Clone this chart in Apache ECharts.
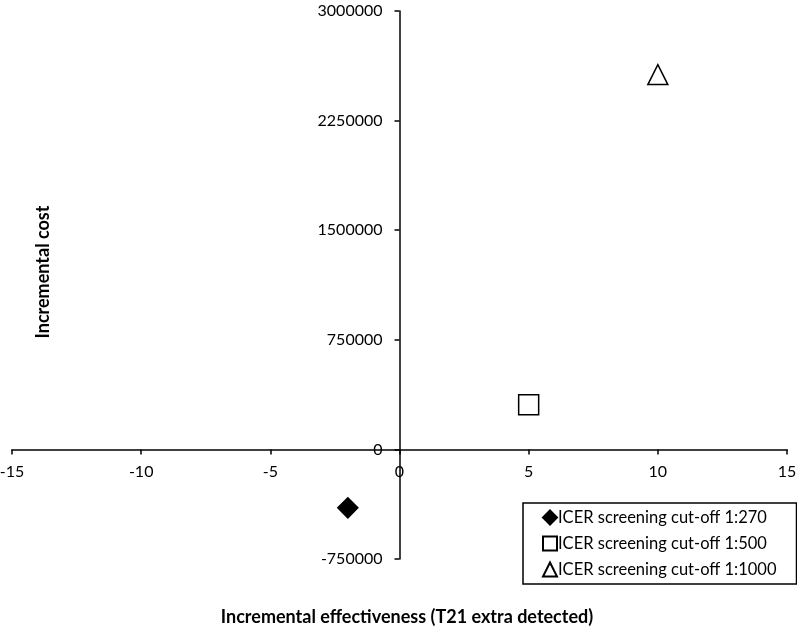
<!DOCTYPE html>
<html><head><meta charset="utf-8">
<script src="https://cdn.jsdelivr.net/npm/echarts@6/dist/echarts.min.js"></script>
<style>html,body{margin:0;padding:0;background:#fff}#c{width:797px;height:633px}</style>
</head><body><div id="c"></div>
<script>
const seriesNames = ['ICER screening cut-off 1:270','ICER screening cut-off 1:500','ICER screening cut-off 1:1000'];
const effectiveness = [-2, 5, 10];
const costs = [-400000, 305000, 2565000];
const symbols = ['diamond','rect','triangle'];
const fills = ['#000000','#ffffff','#ffffff'];
const xTitle = 'Incremental effectiveness (T21 extra detected)';
const yTitle = 'Incremental cost';

const font = 'Lato, "Open Sans", sans-serif';
const chart = echarts.init(document.getElementById('c'), null, {renderer:'canvas'});
const gridLeft = 12, gridRight = 10, gridTop = 11, gridBottom = 74;
const W = 797, H = 633;
const plotW = W - gridLeft - gridRight, plotH = H - gridTop - gridBottom;
// offsets that put each axis on the other axis's zero line
const yOff = -plotW * (0 - (-15)) / 30;
const xOff = -plotH * (0 - (-750000)) / 3750000;
chart.setOption({
  animation:false,
  backgroundColor:'#fff',
  grid:{left:gridLeft, right:gridRight, top:gridTop, bottom:gridBottom, containLabel:false, outerBoundsMode:'none'},
  xAxis:{type:'value', min:-15, max:15, interval:5, position:'bottom', offset:xOff,
    axisLine:{onZero:false, lineStyle:{color:'#000', width:1.5}},
    axisTick:{show:true, length:5, lineStyle:{color:'#000', width:1.5}},
    axisLabel:{fontFamily:font, fontSize:16, color:'#000', margin:14, formatter:v=>String(v)},
    splitLine:{show:false}},
  yAxis:{type:'value', min:-750000, max:3000000, interval:750000, position:'left', offset:yOff,
    axisLine:{onZero:false, lineStyle:{color:'#000', width:1.5}},
    axisTick:{show:true, length:5, lineStyle:{color:'#000', width:1.5}},
    axisLabel:{fontFamily:font, fontSize:16, color:'#000', margin:17, formatter:v=>String(v)},
    splitLine:{show:false}},
  graphic:[
    {type:'text', x:43, y:272, rotation:Math.PI/2,
      style:{text:yTitle, font:'bold 18px ' + font, fill:'#000', align:'center', verticalAlign:'middle'}},
    {type:'text', x:407, y:617,
      style:{text:xTitle, font:'bold 18px ' + font, fill:'#000', align:'center', verticalAlign:'middle'}}
  ],
  legend:{orient:'vertical', left:523, top:503,
    padding:[6,20,6,19], itemGap:9, itemWidth:14, itemHeight:14,
    borderColor:'#000', borderWidth:1.5, backgroundColor:'#fff',
    textStyle:{fontFamily:font, fontSize:16.5, color:'#000', padding:[0,0,0,-4]},
    data:seriesNames},
  series: seriesNames.map((n,i)=>({
    name:n, type:'scatter', symbol:symbols[i], symbolSize:20,
    itemStyle:{color:fills[i], borderColor:'#000', borderWidth:1.5, opacity:1},
    data:[[effectiveness[i], costs[i]]]
  }))
});
</script></body></html>
